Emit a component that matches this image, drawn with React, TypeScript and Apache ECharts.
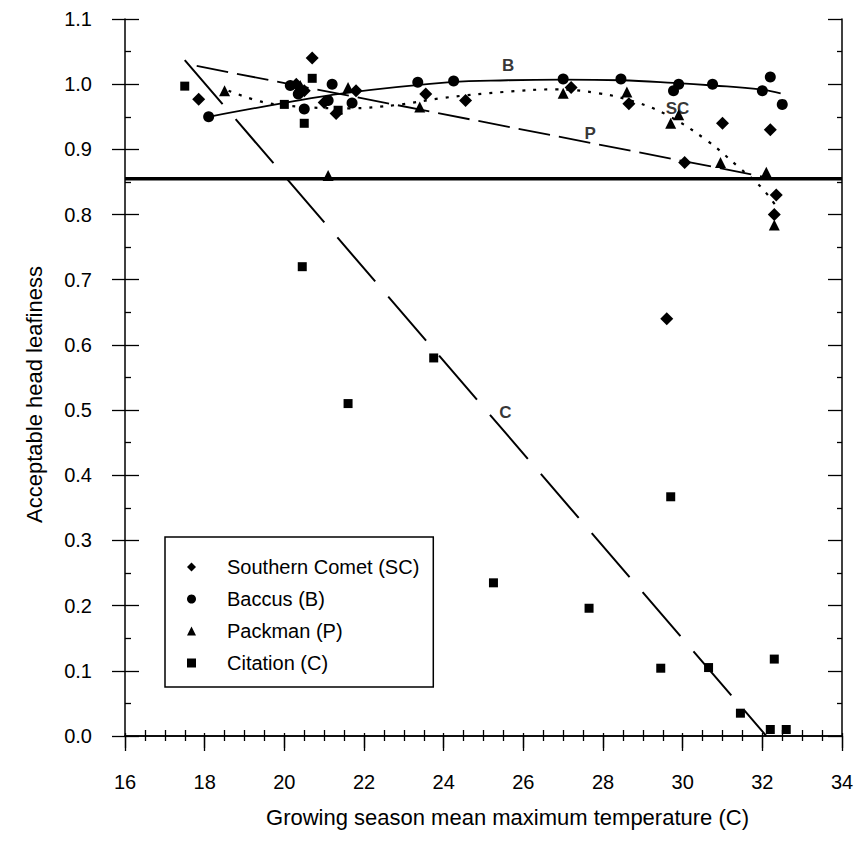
import React, { useEffect, useRef } from "react";
import * as echarts from "echarts";

// ---- axis settings ----
const xRange = [16, 34];
const xInterval = 2;
const yRange = [0, 1.1];
const yInterval = 0.1;

// ---- observed data ----
const southernComet = [
  [17.85, 0.977], [20.3, 1.0], [20.5, 0.99], [20.7, 1.04], [21.0, 0.972],
  [21.3, 0.955], [21.8, 0.99], [23.55, 0.985], [24.55, 0.975], [27.2, 0.995],
  [28.65, 0.97], [29.6, 0.64], [30.05, 0.88], [31.0, 0.94], [32.2, 0.93],
  [32.35, 0.83], [32.3, 0.8],
];
const baccus = [
  [18.1, 0.95], [20.15, 0.998], [20.35, 0.985], [20.5, 0.962], [21.1, 0.975],
  [21.2, 1.0], [21.7, 0.971], [23.35, 1.003], [24.25, 1.005], [27.0, 1.008],
  [28.45, 1.008], [29.77, 0.99], [29.9, 1.0], [30.75, 1.0], [32.0, 0.99],
  [32.2, 1.011], [32.5, 0.969],
];
const packman = [
  [18.5, 0.99], [20.4, 0.998], [21.1, 0.86], [21.6, 0.995], [23.4, 0.965],
  [27.0, 0.986], [28.6, 0.988], [29.7, 0.94], [29.9, 0.953], [30.95, 0.88],
  [32.1, 0.865], [32.3, 0.784],
];
const citation = [
  [17.5, 0.997], [20.0, 0.969], [20.5, 0.94], [20.7, 1.009], [21.35, 0.96],
  [20.45, 0.72], [21.6, 0.51], [23.75, 0.58], [25.25, 0.235], [27.65, 0.196],
  [29.45, 0.104], [29.7, 0.367], [30.65, 0.105], [31.45, 0.035], [32.2, 0.01],
  [32.3, 0.118], [32.6, 0.01],
];

// ---- fitted curves ----
const fitB = [
  [18.1, 0.95], [19.97, 0.971], [21.48, 0.986], [24.17, 1.003], [25.6, 1.006],
  [26.98, 1.007], [28.44, 1.006], [29.77, 1.002], [30.77, 0.998], [31.95, 0.992],
  [32.46, 0.986],
];
const fitSC = [
  [18.6, 0.99], [19.5, 0.972], [20.5, 0.965], [21.6, 0.963], [22.8, 0.968],
  [24.0, 0.979], [25.5, 0.988], [26.8, 0.992], [27.9, 0.986], [28.8, 0.973],
  [29.6, 0.953], [30.6, 0.914], [31.4, 0.873], [32.0, 0.84], [32.4, 0.808],
];
const fitP = [[17.8, 1.028], [32.2, 0.856]];
const fitC = [[17.5, 1.037], [32.1, 0.0]];
const thresholdY = 0.855;
const threshold = [[16, thresholdY], [34, thresholdY]];

const curveLabels = [
  { name: "B", value: [25.62, 1.029] },
  { name: "SC", value: [29.87, 0.963] },
  { name: "P", value: [27.68, 0.925] },
  { name: "C", value: [25.55, 0.497] },
];

const seriesNames = ["Southern Comet (SC)", "Baccus (B)", "Packman (P)", "Citation (C)"];

const FONT = "'Liberation Sans', Arial, Helvetica, sans-serif";
const BLACK = "#000";

function baseAxis(range: number[], interval: number) {
  return {
    type: "value" as const,
    min: range[0],
    max: range[1],
    interval,
    splitLine: { show: false },
  };
}

export default function App() {
  const ref = useRef<HTMLDivElement>(null);

  useEffect(() => {
    if (!ref.current) return;
    const chart = echarts.init(ref.current, null, { renderer: "svg" });

    const tickStyle = { color: BLACK, width: 1.3 };
    const markerStyle = { color: BLACK, opacity: 1 };

    const option: any = {
      animation: false,
      backgroundColor: "#fff",
      grid: { left: 125, right: 21, top: 19, bottom: 108, outerBoundsMode: "none" },
      xAxis: [
        {
          ...baseAxis(xRange, xInterval),
          position: "bottom",
          axisLine: { show: true, lineStyle: { color: BLACK, width: 1.5 } },
          axisTick: { show: true, inside: false, length: 15, lineStyle: tickStyle },
          minorTick: { show: false },
          axisLabel: { color: BLACK, fontSize: 20, fontFamily: FONT, margin: 36 },
          name: "Growing season mean maximum temperature (C)",
          nameLocation: "middle",
          nameGap: 70,
          nameTextStyle: { color: BLACK, fontSize: 22, fontFamily: FONT, padding: [0, 0, 0, 48] },
        },
        {
          ...baseAxis(xRange, xInterval),
          position: "bottom",
          axisLine: { show: false },
          axisTick: { show: true, inside: true, length: 3, lineStyle: tickStyle },
          minorTick: { show: true, splitNumber: 4, length: 6, lineStyle: tickStyle },
          axisLabel: { show: false },
        },
        {
          ...baseAxis(xRange, xInterval),
          position: "top",
          axisLine: { show: true, lineStyle: { color: BLACK, width: 1.5 } },
          axisTick: { show: true, inside: true, length: 12, lineStyle: tickStyle },
          minorTick: { show: true, splitNumber: 4, length: 5, lineStyle: tickStyle },
          axisLabel: { show: false },
        },
      ],
      yAxis: [
        {
          ...baseAxis(yRange, yInterval),
          position: "left",
          axisLine: { show: true, lineStyle: { color: BLACK, width: 1.5 } },
          axisTick: { show: true, inside: false, length: 13, lineStyle: tickStyle },
          minorTick: { show: false },
          axisLabel: {
            color: BLACK,
            fontSize: 20,
            fontFamily: FONT,
            margin: 33,
            formatter: (v: number) => v.toFixed(1),
          },
          name: "Acceptable head leafiness",
          nameLocation: "middle",
          nameGap: 80,
          nameTextStyle: { color: BLACK, fontSize: 22, fontFamily: FONT, padding: [0, 34, 0, 0] },
        },
        {
          ...baseAxis(yRange, yInterval),
          position: "left",
          axisLine: { show: false },
          axisTick: { show: true, inside: true, length: 14, lineStyle: tickStyle },
          minorTick: { show: true, splitNumber: 2, length: 6, lineStyle: tickStyle },
          axisLabel: { show: false },
        },
        {
          ...baseAxis(yRange, yInterval),
          position: "right",
          axisLine: { show: true, lineStyle: { color: BLACK, width: 1.5 } },
          axisTick: { show: true, inside: true, length: 14, lineStyle: tickStyle },
          minorTick: { show: true, splitNumber: 2, length: 5, lineStyle: tickStyle },
          axisLabel: { show: false },
        },
      ],
      legend: {
        data: seriesNames,
        orient: "vertical",
        left: 165,
        top: 537,
        itemWidth: 9,
        itemHeight: 9,
        itemGap: 12,
        padding: [20, 14, 14, 22],
        borderColor: BLACK,
        borderWidth: 1.5,
        selectedMode: false,
        textStyle: { fontSize: 20, color: BLACK, fontFamily: FONT, padding: [0, 0, 0, 26] },
      },
      series: [
        {
          name: "threshold",
          type: "line",
          data: threshold,
          symbol: "none",
          lineStyle: { color: BLACK, width: 3.5 },
          silent: true,
          z: 1,
        },
        {
          name: "fitC",
          type: "line",
          data: fitC,
          symbol: "none",
          lineStyle: { color: BLACK, width: 2, type: [58, 20] },
          silent: true,
          z: 1,
        },
        {
          name: "fitP",
          type: "line",
          data: fitP,
          symbol: "none",
          lineStyle: { color: BLACK, width: 1.8, type: [32, 9] },
          silent: true,
          z: 1,
        },
        {
          name: "fitB",
          type: "line",
          data: fitB,
          smooth: 0.4,
          symbol: "none",
          lineStyle: { color: BLACK, width: 1.8 },
          silent: true,
          z: 1,
        },
        {
          name: "fitSC",
          type: "line",
          data: fitSC,
          smooth: 0.4,
          symbol: "none",
          lineStyle: { color: BLACK, width: 2.2, type: [3, 8] },
          silent: true,
          z: 1,
        },
        {
          name: seriesNames[0],
          type: "scatter",
          symbol: "diamond",
          symbolSize: 13,
          symbolKeepAspect: true,
          itemStyle: markerStyle,
          data: southernComet,
          z: 3,
        },
        {
          name: seriesNames[1],
          type: "scatter",
          symbol: "circle",
          symbolSize: 11,
          symbolKeepAspect: true,
          itemStyle: markerStyle,
          data: baccus,
          z: 3,
        },
        {
          name: seriesNames[2],
          type: "scatter",
          symbol: "triangle",
          symbolSize: 11,
          symbolKeepAspect: true,
          itemStyle: markerStyle,
          data: packman,
          z: 3,
        },
        {
          name: seriesNames[3],
          type: "scatter",
          symbol: "rect",
          symbolSize: 9,
          symbolKeepAspect: true,
          itemStyle: markerStyle,
          data: citation,
          z: 3,
        },
        {
          name: "curveLabels",
          type: "scatter",
          symbolSize: 1,
          itemStyle: { color: "rgba(0,0,0,0)" },
          silent: true,
          data: curveLabels,
          label: {
            show: true,
            position: "inside",
            formatter: "{b}",
            color: BLACK,
            fontSize: 17,
            fontFamily: FONT,
            fontWeight: "bold",
          },
          z: 4,
        },
      ],
    };

    chart.setOption(option);
    return () => chart.dispose();
  }, []);

  return (
    <div
      ref={ref}
      style={{ position: "fixed", left: 0, top: 0, width: 863, height: 844, background: "#fff" }}
    />
  );
}
